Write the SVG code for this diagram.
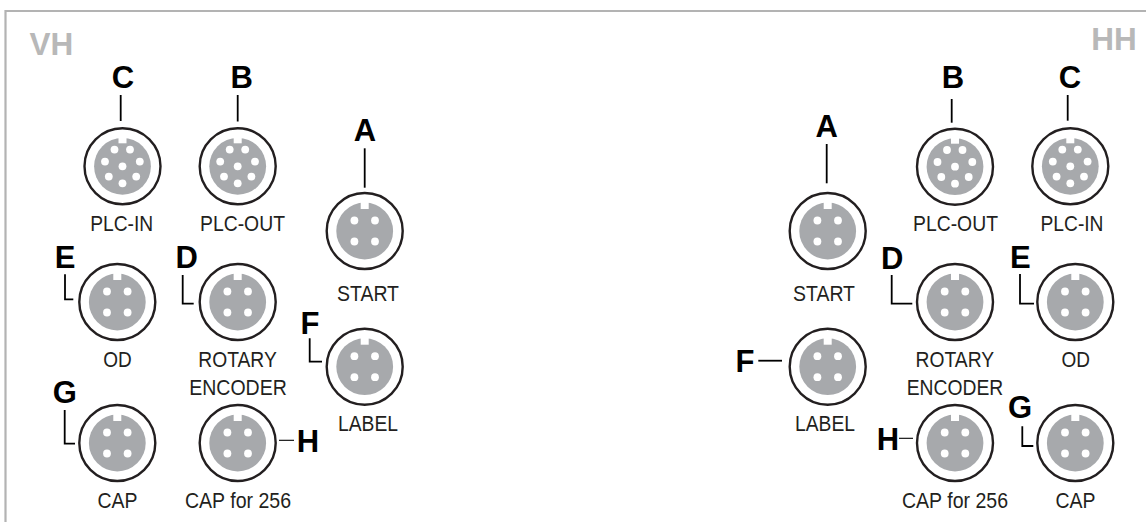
<svg xmlns="http://www.w3.org/2000/svg" width="1146" height="522" viewBox="0 0 1146 522">
<style>
text{font-family:"Liberation Sans",Arial,sans-serif;text-anchor:middle}
.frame{fill:none;stroke:#b3b3b3;stroke-width:2.2}
.corner{font-size:31.500px;font-weight:700;fill:#b8b8b8}
.ref{font-size:31px;font-weight:700;fill:#000}
.lab{font-size:21.500px;fill:#231f20}
.ring{fill:#fff;stroke:#231f20;stroke-width:2.400}
.disk{fill:#a7a9ac}
.pin{fill:#fff}
.lead{fill:none;stroke:#000;stroke-width:1.800}
.thin{fill:none;stroke:#000;stroke-width:1.100}
</style>
<defs>
<g id="p4">
<circle class="ring" r="38"/><circle class="disk" r="28.400"/><rect class="pin" x="-4" y="-29" width="8" height="7"/>
<circle class="pin" cx="-10.300" cy="-10.500" r="3.900"/><circle class="pin" cx="10.300" cy="-10.500" r="3.900"/><circle class="pin" cx="-10.300" cy="10.500" r="3.900"/><circle class="pin" cx="10.300" cy="10.500" r="3.900"/>
</g>
<g id="p8">
<circle class="ring" r="38"/><circle class="disk" r="28.400"/><rect class="pin" x="-4" y="-29" width="8" height="6"/>
<circle class="pin" cx="-8" cy="-16.700" r="3.900"/><circle class="pin" cx="7.500" cy="-16.700" r="3.900"/><circle class="pin" cx="-17.500" cy="-4.700" r="3.900"/><circle class="pin" cx="17.300" cy="-4.700" r="3.900"/><circle class="pin" r="3.900"/><circle class="pin" cx="-13.700" cy="10.300" r="3.900"/><circle class="pin" cx="13.700" cy="10.300" r="3.900"/><circle class="pin" cy="17" r="3.900"/>
</g>
</defs>
<polyline class="frame" points="5.500,522 5.500,11 1146,11"/>
<text class="corner" x="51.500" y="55">VH</text>
<text class="corner" x="1114" y="50">HH</text>
<g id="connectors">
<path class="lead" d="M120.700 95V121"/>
<path class="lead" d="M237.700 95V121.500"/>
<path class="lead" d="M364.700 148.300V187.700"/>
<path class="lead" d="M65 274.300V299.300H73.300"/>
<path class="lead" d="M182.700 275V303.700H193.700"/>
<path class="lead" d="M309.700 338.300V361.700H322"/>
<path class="lead" d="M64.700 410V443.700H75"/>
<path class="thin" d="M279 440.300H294"/>
<path class="lead" d="M826.700 144V183.300"/>
<path class="lead" d="M951.700 99V122.700"/>
<path class="lead" d="M1067.700 95V120.700"/>
<path class="lead" d="M891.700 275V303.700H912.300"/>
<path class="lead" d="M1020 274V303.700H1034"/>
<path class="lead" d="M758.300 360.700H782"/>
<path class="thin" d="M899 438.300H913"/>
<path class="lead" d="M1022.300 426.300V446H1033.300"/>
</g>
<g id="vh-plc-in"><use href="#p8" x="122.500" y="166.300"/><text class="ref" x="123" y="88">C</text><text class="lab" x="121.700" y="230.500" textLength="63" lengthAdjust="spacingAndGlyphs">PLC-IN</text></g>
<g id="vh-plc-out"><use href="#p8" x="237.700" y="166.300"/><text class="ref" x="241.700" y="88">B</text><text class="lab" x="242.500" y="230.500" textLength="85" lengthAdjust="spacingAndGlyphs">PLC-OUT</text></g>
<g id="vh-start"><use href="#p4" x="364.700" y="231"/><text class="ref" x="365" y="140.700">A</text><text class="lab" x="368" y="300.700" textLength="62" lengthAdjust="spacingAndGlyphs">START</text></g>
<g id="vh-od"><use href="#p4" x="117.300" y="302"/><text class="ref" x="65" y="268.300">E</text><text class="lab" x="117.500" y="366.700" textLength="28.500" lengthAdjust="spacingAndGlyphs">OD</text></g>
<g id="vh-rotary"><use href="#p4" x="237.700" y="302"/><text class="ref" x="186.700" y="268.300">D</text><text class="lab" x="237.500" y="366.700" textLength="78.500" lengthAdjust="spacingAndGlyphs">ROTARY</text><text class="lab" x="238" y="395" textLength="97.500" lengthAdjust="spacingAndGlyphs">ENCODER</text></g>
<g id="vh-label"><use href="#p4" x="364.700" y="366.700"/><text class="ref" x="310" y="334">F</text><text class="lab" x="368" y="430.700" textLength="60" lengthAdjust="spacingAndGlyphs">LABEL</text></g>
<g id="vh-cap"><use href="#p4" x="117.300" y="443"/><text class="ref" x="64.700" y="403">G</text><text class="lab" x="117.500" y="507.700" textLength="40" lengthAdjust="spacingAndGlyphs">CAP</text></g>
<g id="vh-cap256"><use href="#p4" x="237.700" y="443"/><text class="ref" x="308" y="451.700">H</text><text class="lab" x="238" y="507.700" textLength="106" lengthAdjust="spacingAndGlyphs">CAP for 256</text></g>
<g id="hh-start"><use href="#p4" x="827.700" y="231"/><text class="ref" x="826.700" y="136.700">A</text><text class="lab" x="824" y="300.700" textLength="62" lengthAdjust="spacingAndGlyphs">START</text></g>
<g id="hh-plc-out"><use href="#p8" x="955" y="166.700"/><text class="ref" x="953" y="88">B</text><text class="lab" x="955.500" y="230.500" textLength="85" lengthAdjust="spacingAndGlyphs">PLC-OUT</text></g>
<g id="hh-plc-in"><use href="#p8" x="1070.300" y="166.300"/><text class="ref" x="1070" y="88">C</text><text class="lab" x="1072" y="230.500" textLength="63" lengthAdjust="spacingAndGlyphs">PLC-IN</text></g>
<g id="hh-rotary"><use href="#p4" x="955" y="302"/><text class="ref" x="892.300" y="269">D</text><text class="lab" x="954.800" y="366.700" textLength="78.500" lengthAdjust="spacingAndGlyphs">ROTARY</text><text class="lab" x="955" y="395" textLength="96.500" lengthAdjust="spacingAndGlyphs">ENCODER</text></g>
<g id="hh-od"><use href="#p4" x="1075.300" y="302"/><text class="ref" x="1020.300" y="268.300">E</text><text class="lab" x="1075.700" y="366.700" textLength="28.500" lengthAdjust="spacingAndGlyphs">OD</text></g>
<g id="hh-label"><use href="#p4" x="827.700" y="366.700"/><text class="ref" x="745" y="371.700">F</text><text class="lab" x="825" y="430.700" textLength="60" lengthAdjust="spacingAndGlyphs">LABEL</text></g>
<g id="hh-cap256"><use href="#p4" x="955" y="443"/><text class="ref" x="888" y="450">H</text><text class="lab" x="955" y="507.700" textLength="106" lengthAdjust="spacingAndGlyphs">CAP for 256</text></g>
<g id="hh-cap"><use href="#p4" x="1075.300" y="443"/><text class="ref" x="1020" y="418">G</text><text class="lab" x="1075.500" y="507.700" textLength="40" lengthAdjust="spacingAndGlyphs">CAP</text></g>
</svg>
